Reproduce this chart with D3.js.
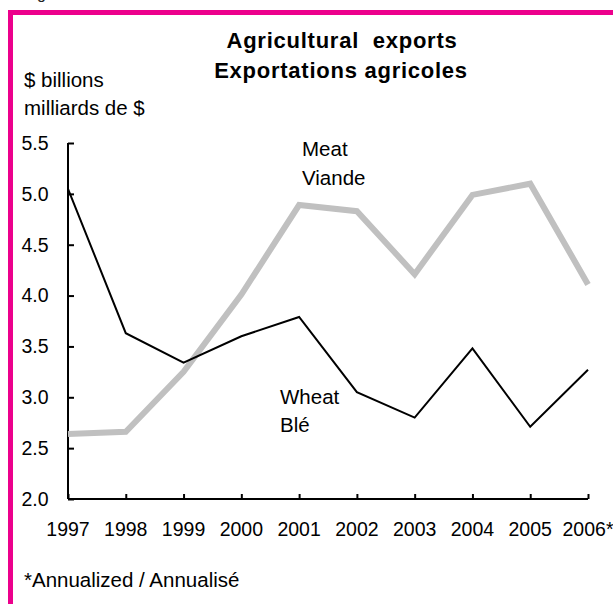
<!DOCTYPE html>
<html>
<head>
<meta charset="utf-8">
<script src="https://cdn.jsdelivr.net/npm/d3@7"></script>
<style>
  body { margin: 0; background: #fff; }
  svg { display: block; font-family: "Liberation Sans", Arial, sans-serif; }
</style>
</head>
<body>
<script>
// Data
const years = [1997, 1998, 1999, 2000, 2001, 2002, 2003, 2004, 2005, 2006];
const yearLabels = ["1997", "1998", "1999", "2000", "2001", "2002", "2003", "2004", "2005", "2006*"];
const wheat = [5.05, 3.63, 3.34, 3.60, 3.79, 3.05, 2.80, 3.48, 2.71, 3.27];
const meat = [2.64, 2.66, 3.25, 4.01, 4.89, 4.83, 4.21, 4.99, 5.10, 4.11];
const yTicks = [2.0, 2.5, 3.0, 3.5, 4.0, 4.5, 5.0, 5.5];

const width = 613, height = 604;
const margin = { top: 143, right: 25, bottom: 105, left: 68 };
const textSize = 20.5, numSize = 19.5;

const svg = d3.select("body").append("svg")
  .attr("width", width)
  .attr("height", height);

// pink frame (only top and left edges are visible in the crop)
svg.append("path")
  .attr("d", `M10.5,${height} V12.5 H${width}`)
  .attr("fill", "none")
  .attr("stroke", "#ec008c")
  .attr("stroke-width", 5);

// bit of caption text cut off above the frame
svg.append("text")
  .attr("x", 37)
  .attr("y", -1)
  .attr("font-size", 16)
  .attr("fill", "#222")
  .text("g");

const x = d3.scalePoint()
  .domain(years)
  .range([margin.left, width - margin.right]);

const y = d3.scaleLinear()
  .domain([2, 5.5])
  .range([height - margin.bottom, margin.top]);

// titles
const title = svg.append("text")
  .attr("text-anchor", "middle")
  .attr("font-weight", "bold")
  .attr("font-size", 22)
  .attr("letter-spacing", 0.75)
  .style("white-space", "pre");
title.append("tspan").attr("x", 342).attr("y", 48).text("Agricultural  exports");
title.append("tspan").attr("x", 341).attr("y", 78).text("Exportations agricoles");

const unit = svg.append("text").attr("font-size", textSize);
unit.append("tspan").attr("x", 24).attr("y", 87).text("$ billions");
unit.append("tspan").attr("x", 24).attr("y", 114.5).text("milliards de $");

// axes
const yAxis = svg.append("g")
  .attr("transform", `translate(${margin.left},0)`)
  .call(d3.axisRight(y).tickValues(yTicks).tickSize(6).tickFormat(""));
yAxis.select(".domain").attr("d", `M0,${y(5.5)}V${y(2)}`);
yAxis.selectAll("line, path").attr("stroke", "#000").attr("stroke-width", 2);

svg.append("g")
  .selectAll("text")
  .data(yTicks)
  .join("text")
  .attr("x", 48.5)
  .attr("y", d => y(d))
  .attr("dy", "0.35em")
  .attr("text-anchor", "end")
  .attr("font-size", numSize)
  .text(d => d.toFixed(1));

const xAxis = svg.append("g")
  .attr("transform", `translate(0,${y(2)})`)
  .call(d3.axisTop(x).tickSize(5).tickFormat(""));
xAxis.select(".domain").attr("d", `M${x(1997)},0H${x(2006)}`);
xAxis.selectAll("line, path").attr("stroke", "#000").attr("stroke-width", 2);

svg.append("g")
  .selectAll("text")
  .data(years)
  .join("text")
  .attr("x", d => x(d))
  .attr("y", 536)
  .attr("text-anchor", "middle")
  .attr("font-size", numSize)
  .text((d, i) => yearLabels[i]);

// lines
const line = d3.line()
  .x((d, i) => x(years[i]))
  .y(d => y(d));

svg.append("path")
  .datum(meat)
  .attr("d", line)
  .attr("fill", "none")
  .attr("stroke", "#c0c0c0")
  .attr("stroke-width", 6);

svg.append("path")
  .datum(wheat)
  .attr("d", line)
  .attr("fill", "none")
  .attr("stroke", "#000")
  .attr("stroke-width", 2);

// series labels
const meatLabel = svg.append("text").attr("font-size", textSize);
meatLabel.append("tspan").attr("x", 302).attr("y", 156).text("Meat");
meatLabel.append("tspan").attr("x", 302).attr("y", 185).text("Viande");

const wheatLabel = svg.append("text").attr("font-size", textSize);
wheatLabel.append("tspan").attr("x", 280).attr("y", 404).text("Wheat");
wheatLabel.append("tspan").attr("x", 280).attr("y", 432).text("Blé");

// footnote
svg.append("text")
  .attr("x", 24)
  .attr("y", 587)
  .attr("font-size", textSize)
  .text("*Annualized / Annualisé");
</script>
</body>
</html>
